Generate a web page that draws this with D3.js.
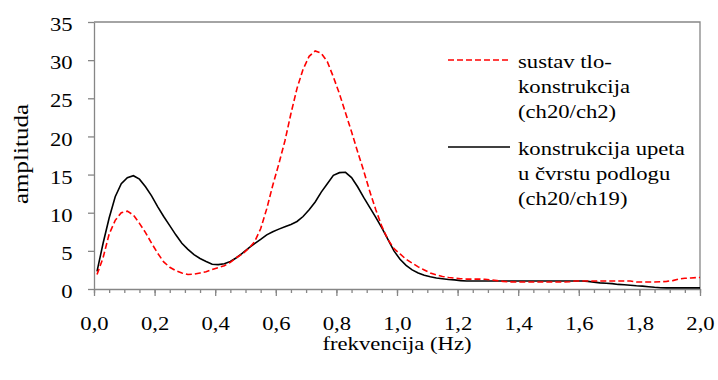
<!DOCTYPE html>
<html>
<head>
<meta charset="utf-8">
<script src="https://cdn.jsdelivr.net/npm/d3@7"></script>
<style>
  html, body { margin: 0; padding: 0; background: #fff; }
  svg { display: block; }
  text { font-family: "Liberation Serif", "Times New Roman", serif; fill: #000; }
</style>
</head>
<body>
<svg id="chart" width="718" height="380"></svg>
<script>
// ---- data ----
const frequency = [
  0.01,0.03,0.05,0.07,0.09,0.11,0.13,0.15,0.17,0.19,
  0.21,0.23,0.25,0.27,0.29,0.31,0.33,0.35,0.37,0.39,
  0.41,0.43,0.45,0.47,0.49,0.51,0.53,0.55,0.57,0.59,
  0.61,0.63,0.65,0.67,0.69,0.71,0.73,0.75,0.77,0.79,
  0.81,0.83,0.85,0.87,0.89,0.91,0.93,0.95,0.97,0.99,
  1.01,1.03,1.05,1.07,1.09,1.11,1.13,1.15,1.17,1.19,
  1.21,1.23,1.25,1.27,1.29,1.31,1.33,1.35,1.37,1.39,
  1.41,1.43,1.45,1.47,1.49,1.51,1.53,1.55,1.57,1.59,
  1.61,1.63,1.65,1.67,1.69,1.71,1.73,1.75,1.77,1.79,
  1.81,1.83,1.85,1.87,1.89,1.91,1.93,1.95,1.97,1.99,2.00
];
const sustavTlo = [ // ch20/ch2 (red dashed)
  1.9,4.1,7.2,9.0,10.0,10.2,9.7,8.6,7.4,6.0,
  4.7,3.55,2.85,2.4,2.1,1.9,1.95,2.1,2.25,2.55,
  2.8,3.05,3.5,4.1,4.6,5.3,6.2,7.9,10.5,13.6,
  16.4,19.4,23.0,26.3,28.8,30.5,31.2,30.9,29.8,27.8,
  25.6,23.1,20.6,18.0,15.5,12.8,10.4,8.2,6.5,5.3,
  4.6,3.9,3.4,2.9,2.5,2.1,1.85,1.65,1.5,1.42,
  1.35,1.3,1.3,1.3,1.28,1.2,1.1,1.0,0.93,0.92,
  0.92,0.92,0.92,0.92,0.92,0.92,0.92,0.92,0.95,1.05,
  1.05,1.05,1.05,1.05,1.05,1.05,1.05,1.05,1.05,0.92,
  0.92,0.92,0.92,0.95,1.0,1.1,1.3,1.4,1.45,1.5,1.5
];
const konstrukcijaUpeta = [ // ch20/ch19 (black)
  2.3,6.0,9.3,12.1,13.8,14.6,14.85,14.4,13.4,12.2,
  10.8,9.5,8.3,7.1,6.0,5.2,4.5,4.0,3.6,3.25,
  3.2,3.3,3.6,4.1,4.7,5.35,5.95,6.5,7.1,7.5,
  7.85,8.15,8.45,8.85,9.5,10.4,11.4,12.7,13.8,14.9,
  15.25,15.3,14.6,13.4,12.0,10.7,9.4,8.0,6.5,5.0,
  3.9,3.1,2.5,2.1,1.8,1.6,1.45,1.35,1.25,1.2,
  1.1,1.05,1.05,1.05,1.05,1.05,1.05,1.05,1.05,1.05,
  1.05,1.05,1.05,1.05,1.05,1.05,1.05,1.05,1.05,1.05,
  1.05,1.0,0.9,0.8,0.75,0.7,0.6,0.55,0.5,0.42,
  0.38,0.3,0.22,0.17,0.15,0.15,0.15,0.15,0.15,0.15,0.15
];
const xTickValues = [0.0,0.2,0.4,0.6,0.8,1.0,1.2,1.4,1.6,1.8,2.0];
const xMinorTicks = d3.range(0, 41).map(i => i * 0.05);
const yTickValues = [0,5,10,15,20,25,30,35];
const legendLabels = [
  ["sustav tlo-", "konstrukcija", "(ch20/ch2)"],
  ["konstrukcija upeta", "u čvrstu podlogu", "(ch20/ch19)"]
];

// ---- layout ----
const svg = d3.select("#chart");
const L = 94, R = 700, T = 22, B = 289;
const axisColor = "#868686";
const FS = 18.2;      // font size
const SX = 1.245;     // horizontal stretch of text in the reference
const x = d3.scaleLinear().domain([0, 2]).range([L, R]);
const y = d3.scaleLinear().domain([0, 35]).range([B, T]);
const fmt = v => v.toFixed(1).replace(".", ",");

// plot border (top & right)
svg.append("path")
  .attr("d", `M${L},${T}H${R}V${B}`)
  .attr("fill", "none").attr("stroke", axisColor).attr("stroke-width", 1.3);

// x axis: minor ticks
const gxMinor = svg.append("g").attr("transform", `translate(0,${B})`)
  .call(d3.axisBottom(x).tickValues(xMinorTicks).tickSize(4).tickFormat(""));
gxMinor.select(".domain").remove();
gxMinor.selectAll("line").attr("stroke", axisColor).attr("stroke-width", 1.3);

// x axis: major ticks with labels
const gx = svg.append("g").attr("transform", `translate(0,${B})`)
  .call(d3.axisBottom(x).tickValues(xTickValues).tickSize(7).tickSizeOuter(0).tickFormat(fmt));
gx.select(".domain").attr("stroke", axisColor).attr("stroke-width", 1.3);
gx.selectAll("line").attr("stroke", axisColor).attr("stroke-width", 1.3);
gx.selectAll("text")
  .attr("font-family", "Liberation Serif").attr("font-size", FS).attr("fill", "#000")
  .attr("y", 0).attr("dy", 0)
  .attr("transform", `translate(0,41) scale(${SX},1)`);

// y axis
const gy = svg.append("g").attr("transform", `translate(${L},0)`)
  .call(d3.axisLeft(y).tickValues(yTickValues).tickSize(6).tickSizeOuter(0));
gy.select(".domain").attr("stroke", axisColor).attr("stroke-width", 1.3);
gy.selectAll("line").attr("stroke", axisColor).attr("stroke-width", 1.3);
gy.selectAll("text")
  .attr("font-family", "Liberation Serif").attr("font-size", FS).attr("fill", "#000")
  .attr("x", 0).attr("dy", 0)
  .attr("transform", `translate(-21.3,8.7) scale(${SX},1)`);

// axis titles
svg.append("text").attr("text-anchor", "middle")
  .attr("transform", `translate(397,349.5) scale(${SX},1)`)
  .attr("font-size", FS).text("frekvencija (Hz)");
svg.append("text").attr("transform", "translate(28,154) rotate(-90)")
  .attr("text-anchor", "middle").attr("font-size", 21)
  .attr("textLength", 100).attr("lengthAdjust", "spacingAndGlyphs")
  .text("amplituda");

// lines
const line = d3.line().x(d => x(d[0])).y(d => y(d[1]));
svg.append("path")
  .datum(frequency.map((f, i) => [f, konstrukcijaUpeta[i]]))
  .attr("d", line).attr("fill", "none").attr("stroke", "#000").attr("stroke-width", 1.6);
svg.append("path")
  .datum(frequency.map((f, i) => [f, sustavTlo[i]]))
  .attr("d", line).attr("fill", "none").attr("stroke", "#ff0000").attr("stroke-width", 1.6)
  .attr("stroke-dasharray", "6,3");

// legend
const legendItems = [
  { lineY: 60, color: "#ff0000", dash: "6,3", labels: legendLabels[0] },
  { lineY: 147, color: "#000", dash: null, labels: legendLabels[1] }
];
legendItems.forEach(it => {
  svg.append("line").attr("x1", 448).attr("x2", 510).attr("y1", it.lineY).attr("y2", it.lineY)
    .attr("stroke", it.color).attr("stroke-width", 1.6)
    .attr("stroke-dasharray", it.dash);
  it.labels.forEach((t, j) => {
    svg.append("text")
      .attr("transform", `translate(518,${it.lineY + 7.8 + j * 25}) scale(${SX},1)`)
      .attr("font-size", FS).text(t);
  });
});
</script>
</body>
</html>
